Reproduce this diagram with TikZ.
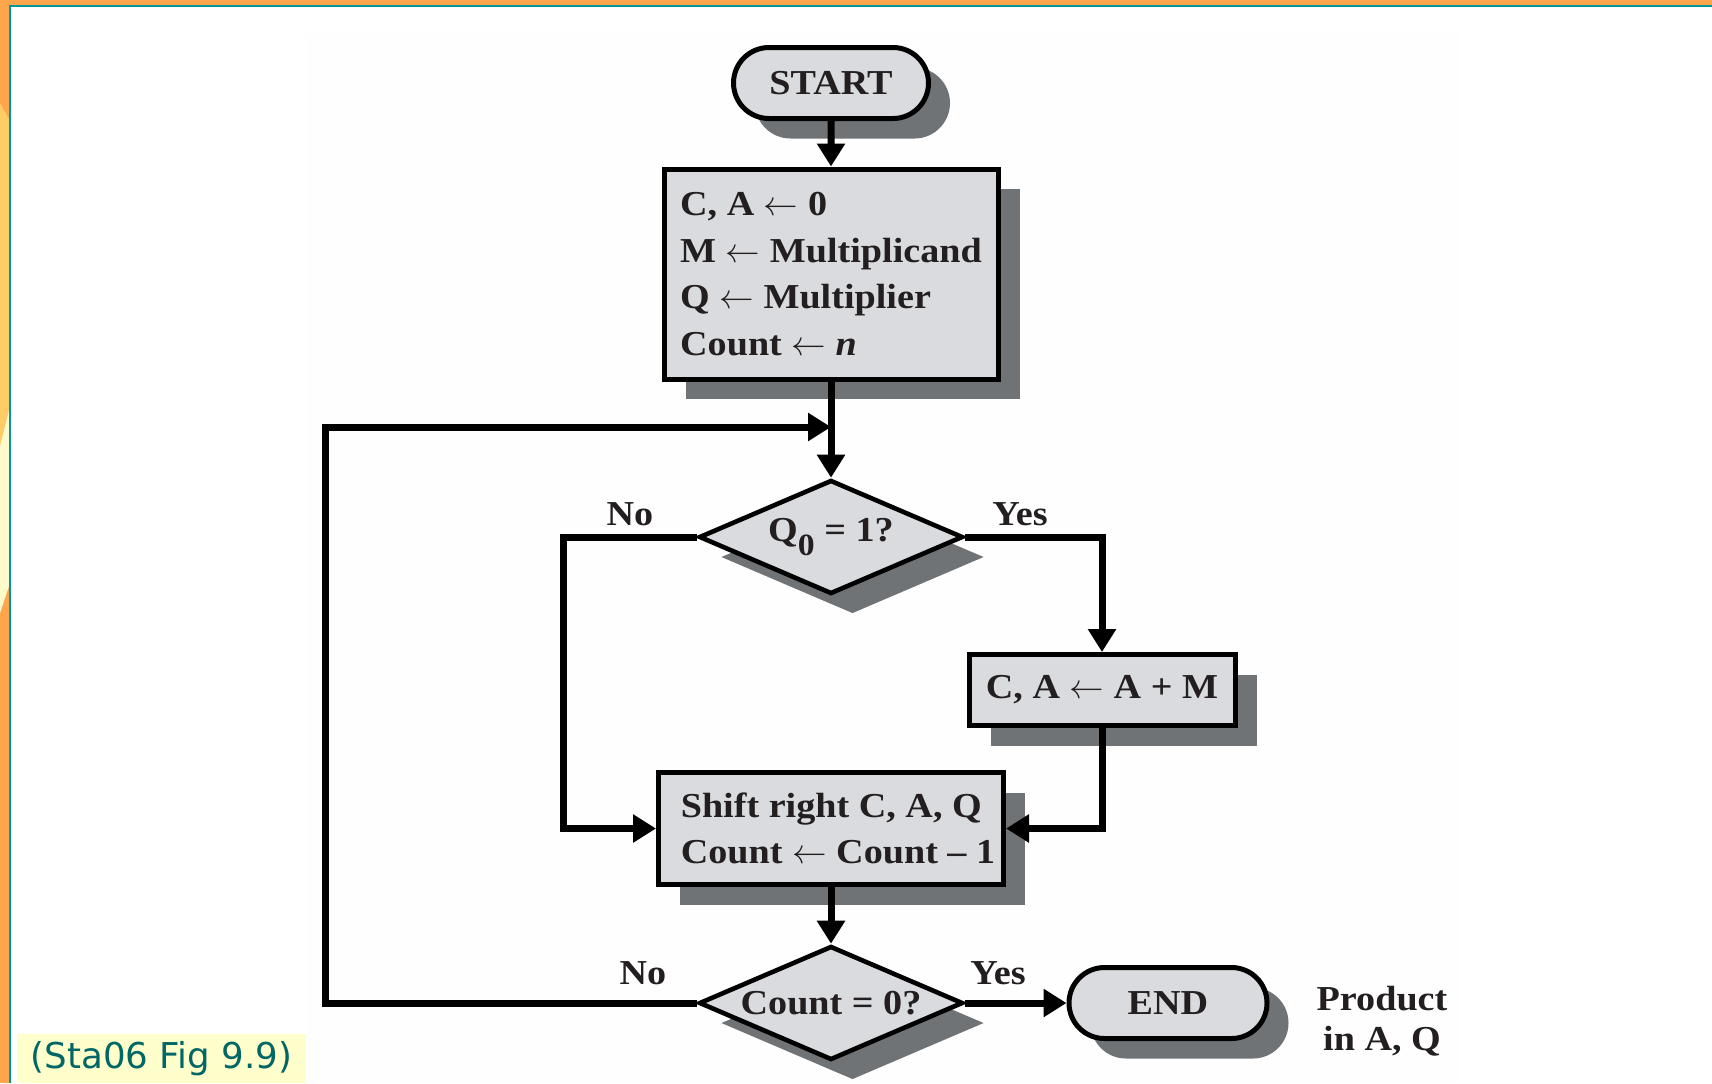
\documentclass[tikz,border=0pt]{standalone}
\usepackage{fontspec}
\setmainfont{Liberation Serif}[FakeStretch=1.09]
\newfontfamily\capfont{DejaVu Sans}
\usetikzlibrary{shapes.geometric,shapes.misc,shadows,arrows.meta}

\definecolor{boxfill}{HTML}{D9DBDE}
\definecolor{shade}{HTML}{707376}
\definecolor{ink}{HTML}{231F20}
\definecolor{frameorange}{HTML}{FFA54C}
\definecolor{bandyellow}{HTML}{FFCC66}
\definecolor{bandpale}{HTML}{FFFACC}
\definecolor{frameteal}{HTML}{009999}
\definecolor{captext}{HTML}{006666}
\definecolor{capback}{HTML}{FFFFCC}
\definecolor{panel}{HTML}{FEFEFE}

\tikzset{
  flowfont/.style={font=\fontsize{17.5}{23.35}\selectfont\bfseries, text=ink},
  shadowed/.style={drop shadow={shadow xshift=10.75pt, shadow yshift=-10pt, opacity=1, fill=shade}},
  terminal/.style={rounded rectangle, draw=black, line width=2.5pt, fill=boxfill, shadowed,
    flowfont, minimum width=97.5pt, minimum height=35.5pt, inner sep=0pt},
  process/.style={rectangle, draw=black, line width=2.5pt, fill=boxfill, shadowed,
    flowfont, align=left, inner sep=0pt},
  decision/.style={diamond, aspect=2.3, draw=black, line width=2.3pt, fill=boxfill, shadowed,
    flowfont, inner sep=0pt, minimum width=132pt, minimum height=57pt},
  flow/.style={line width=3.5pt, -{Triangle[length=11.5pt,width=13.5pt]}},
  branch/.style={flowfont, anchor=base},
}

\begin{document}
\begin{tikzpicture}[x=0.5pt, y=-0.5pt]
\useasboundingbox (0,0) rectangle (1712,1083);

% page background and frame
\fill[white] (0,0) rectangle (1712,1083);
\fill[panel] (307,33) rectangle (1460,1083);
\fill[frameorange] (0,0) rectangle (9,1083);
\fill[frameorange] (0,0) rectangle (1712,5);
\fill[bandyellow] (0,103) -- (9,119) -- (9,410) -- (0,446) -- cycle;
\fill[bandpale] (0,446) -- (9,410) -- (9,586) -- (0,613) -- cycle;
\fill[frameteal] (9,5) rectangle (1712,7);
\fill[frameteal] (9,5) rectangle (11,1083);

% flowchart blocks
\node[terminal] (start) at (831,83) {START};
\node[process, minimum width=167pt, minimum height=105pt] (init) at (831,274)
  {C, A $\leftarrow$ 0\\M $\leftarrow$ Multiplicand\\Q $\leftarrow$ Multiplier\\Count $\leftarrow$ \textit{n}};
\node[decision] (qtest) at (831,537) {Q\raisebox{-7pt}{\fontsize{15.5}{15.5}\selectfont 0} = 1?};
\node[process, minimum width=133pt, minimum height=35.5pt] (add) at (1102,690) {C, A $\leftarrow$ A + M};
\node[process, minimum width=172.5pt, minimum height=56pt] (shift) at (831,828.5)
  {\hspace*{7pt}Shift right C, A, Q\\\hspace*{7pt}Count $\leftarrow$ Count -- 1};
\node[decision] (ctest) at (831,1003) {Count = 0?};
\node[terminal, minimum width=99pt] (end) at (1168,1003) {END};
\node[flowfont, font=\fontsize{17.5}{20}\selectfont\bfseries, align=center] (result) at (1382,1021) {Product\\in A, Q};

% connectors
\coordinate (merge) at (831,427);
\coordinate (noturn) at (563,537);
\coordinate (loopcorner) at (325,1003);
\draw[flow] (start) -- (init);
\draw[flow] (init) -- (qtest);
\draw[flow] (qtest.west) -- (noturn) |- (shift.west);
\draw[flow] (qtest.east) -| (add.north);
\draw[flow] (add.south) |- (shift.east);
\draw[flow] (shift) -- (ctest);
\draw[flow] (ctest.east) -- (end.west);
\draw[flow] (ctest.west) -- (loopcorner) |- (merge);

% branch labels
\node[branch] (no1) at (630,525) {No};
\node[branch] (yes1) at (1020,525) {Yes};
\node[branch] (no2) at (643,984) {No};
\node[branch] (yes2) at (998,984) {Yes};

% source caption
\node[fill=capback, minimum width=144.5pt, minimum height=24.5pt, inner sep=0pt,
  text=captext, font=\capfont\fontsize{17.8}{20}\selectfont] (caption) at (161.5,1058.5) {(Sta06 Fig 9.9)};
\end{tikzpicture}
\end{document}
